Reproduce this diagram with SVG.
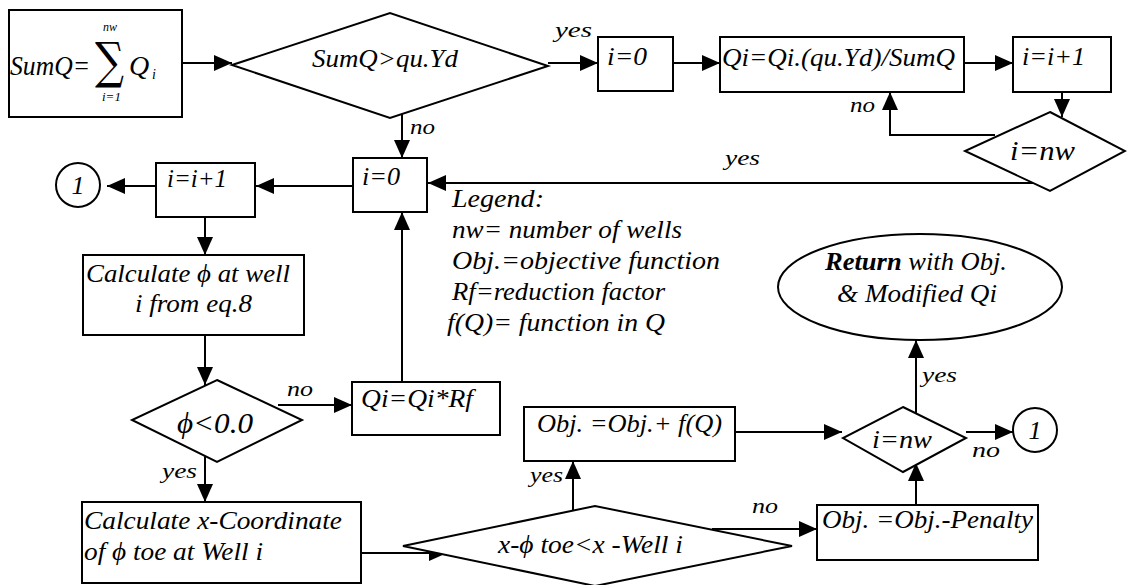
<svg xmlns="http://www.w3.org/2000/svg" width="1127" height="585" viewBox="0 0 1127 585">
<style>
.t{font-family:"Liberation Serif","Times New Roman","DejaVu Serif",serif;font-style:italic;font-size:26px;fill:#000}
.s{font-size:22px}
.b{fill:#fff;stroke:#000;stroke-width:2}
.c{fill:none;stroke:#000;stroke-width:2;marker-end:url(#ah)}
</style>
<defs>
<marker id="ah" markerUnits="userSpaceOnUse" markerWidth="20" markerHeight="18" refX="18" refY="8" orient="auto">
<path d="M0,0 L18,8 L0,16 Z" fill="#000"/>
</marker>
</defs>
<rect width="1127" height="585" fill="#fff"/>

<g id="connectors">
<line class="c" x1="182" y1="63" x2="232" y2="63"/>
<line class="c" x1="548" y1="63" x2="598" y2="63"/>
<line class="c" x1="673" y1="63" x2="720" y2="63"/>
<line class="c" x1="964" y1="63" x2="1013" y2="63"/>
<line class="c" x1="1062" y1="92" x2="1062" y2="117"/>
<polyline class="c" points="995,135 890,135 890,92"/>
<line class="c" x1="1033" y1="183" x2="428" y2="183"/>
<line class="c" x1="402" y1="114" x2="402" y2="158"/>
<line class="c" x1="353" y1="186" x2="256" y2="186"/>
<line class="c" x1="156" y1="186" x2="107" y2="186"/>
<line class="c" x1="205" y1="217" x2="205" y2="255"/>
<line class="c" x1="205" y1="335" x2="205" y2="385"/>
<line class="c" x1="278" y1="405" x2="352" y2="405"/>
<line class="c" x1="402" y1="393" x2="402" y2="212"/>
<line class="c" x1="205" y1="456" x2="205" y2="502"/>
<line class="c" x1="353" y1="553" x2="447" y2="553"/>
<line class="c" x1="573" y1="511" x2="573" y2="461"/>
<line class="c" x1="735" y1="432" x2="842" y2="432"/>
<line class="c" x1="916" y1="505" x2="916" y2="463"/>
<line class="c" x1="916" y1="413" x2="916" y2="340"/>
<line class="c" x1="966" y1="432" x2="1013" y2="432"/>
<line class="c" x1="712" y1="529" x2="817" y2="529"/>
</g>

<g id="labels">
<text class="t s" x="555" y="37" textLength="37" lengthAdjust="spacingAndGlyphs">yes</text>
<text class="t s" x="850" y="112" textLength="25" lengthAdjust="spacingAndGlyphs">no</text>
<text class="t s" x="725" y="165" textLength="35" lengthAdjust="spacingAndGlyphs">yes</text>
<text class="t s" x="410" y="134" textLength="25" lengthAdjust="spacingAndGlyphs">no</text>
<text class="t s" x="287" y="396" textLength="26" lengthAdjust="spacingAndGlyphs">no</text>
<text class="t s" x="162" y="478" textLength="35" lengthAdjust="spacingAndGlyphs">yes</text>
<text class="t s" x="530" y="482" textLength="33" lengthAdjust="spacingAndGlyphs">yes</text>
<text class="t s" x="752" y="513" textLength="26" lengthAdjust="spacingAndGlyphs">no</text>
<text class="t s" x="972" y="457" textLength="28" lengthAdjust="spacingAndGlyphs">no</text>
<text class="t s" x="922" y="382" textLength="35" lengthAdjust="spacingAndGlyphs">yes</text>
</g>

<g id="sumq">
<rect class="b" x="9" y="10" width="173" height="107"/>
<text class="t" x="10" y="75" style="font-size:27px" textLength="80" lengthAdjust="spacingAndGlyphs">SumQ=</text>
<text x="95" y="78" style="font-family:'DejaVu Serif',serif;font-size:50px" textLength="29" lengthAdjust="spacingAndGlyphs">∑</text>
<text class="t" x="103" y="31" style="font-size:12px">nw</text>
<text class="t" x="102" y="101" style="font-size:13px">i=1</text>
<text class="t" x="129" y="75" style="font-size:28px">Q</text>
<text class="t" x="152" y="79" style="font-size:14px">i</text>
</g>

<g id="dec-sumq">
<polygon class="b" points="232,65 390,13 548,66 390,118"/>
<text class="t" x="312" y="67" textLength="146" lengthAdjust="spacingAndGlyphs">SumQ&gt;qu.Yd</text>
</g>

<g id="i0-top">
<rect class="b" x="598" y="37" width="75" height="54"/>
<text class="t" x="607" y="65" textLength="40" lengthAdjust="spacingAndGlyphs">i=0</text>
</g>

<g id="qi-scale">
<rect class="b" x="720" y="37" width="244" height="55"/>
<text class="t" x="722" y="66" textLength="233" lengthAdjust="spacingAndGlyphs">Qi=Qi.(qu.Yd)/SumQ</text>
</g>

<g id="inc-top">
<rect class="b" x="1013" y="37" width="98" height="55"/>
<text class="t" x="1022" y="65" textLength="63" lengthAdjust="spacingAndGlyphs">i=i+1</text>
</g>

<g id="dec-nw-top">
<polygon class="b" points="1050,112 1125,151 1050,191 965,151"/>
<text class="t" x="1010" y="160" style="font-size:28px" textLength="65" lengthAdjust="spacingAndGlyphs">i=nw</text>
</g>

<g id="i0-mid">
<rect class="b" x="353" y="158" width="74" height="54"/>
<text class="t" x="362" y="185" textLength="38" lengthAdjust="spacingAndGlyphs">i=0</text>
</g>

<g id="inc-left">
<rect class="b" x="156" y="163" width="99" height="54"/>
<text class="t" x="167" y="187" textLength="60" lengthAdjust="spacingAndGlyphs">i=i+1</text>
</g>

<g id="conn-left">
<circle class="b" cx="78" cy="185" r="22"/>
<text class="t" x="78" y="194" text-anchor="middle">1</text>
</g>

<g id="calc-phi">
<rect class="b" x="83" y="255" width="221" height="80"/>
<text class="t" x="86" y="282" textLength="204" lengthAdjust="spacingAndGlyphs">Calculate ϕ at well</text>
<text class="t" x="135" y="312" textLength="117" lengthAdjust="spacingAndGlyphs">i from eq.8</text>
</g>

<g id="dec-phi">
<polygon class="b" points="217,380 302,420 217,462 132,420"/>
<text class="t" x="177" y="433" style="font-size:30px" textLength="76" lengthAdjust="spacingAndGlyphs">ϕ&lt;0.0</text>
</g>

<g id="qi-rf">
<rect class="b" x="352" y="382" width="148" height="53"/>
<text class="t" x="361" y="407" textLength="112" lengthAdjust="spacingAndGlyphs">Qi=Qi*Rf</text>
</g>

<g id="calc-x">
<rect class="b" x="82" y="502" width="279" height="81"/>
<text class="t" x="84" y="529" textLength="258" lengthAdjust="spacingAndGlyphs">Calculate x-Coordinate</text>
<text class="t" x="84" y="560" textLength="179" lengthAdjust="spacingAndGlyphs">of ϕ toe at Well i</text>
</g>

<g id="dec-x">
<polygon class="b" points="403,546 595,506 792,546 595,586"/>
<text class="t" x="498" y="553" textLength="185" lengthAdjust="spacingAndGlyphs">x-ϕ toe&lt;x -Well i</text>
</g>

<g id="obj-plus">
<rect class="b" x="524" y="407" width="211" height="54"/>
<text class="t" x="537" y="432" textLength="185" lengthAdjust="spacingAndGlyphs">Obj. =Obj.+ f(Q)</text>
</g>

<g id="obj-pen">
<rect class="b" x="817" y="505" width="221" height="55"/>
<text class="t" x="822" y="528" textLength="211" lengthAdjust="spacingAndGlyphs">Obj. =Obj.-Penalty</text>
</g>

<g id="dec-nw-low">
<polygon class="b" points="903,407 966,438 903,472 843,438"/>
<text class="t" x="872" y="448" textLength="60" lengthAdjust="spacingAndGlyphs">i=nw</text>
</g>

<g id="conn-right">
<circle class="b" cx="1035" cy="430" r="22"/>
<text class="t" x="1035" y="439" text-anchor="middle">1</text>
</g>

<g id="return">
<ellipse class="b" cx="920" cy="287" rx="142" ry="53"/>
<text class="t" x="825" y="270" textLength="182" lengthAdjust="spacingAndGlyphs"><tspan font-weight="bold">Return</tspan> with Obj.</text>
<text class="t" x="837" y="302" textLength="160" lengthAdjust="spacingAndGlyphs">&amp; Modified Qi</text>
</g>

<g id="legend">
<text class="t" x="452" y="207" textLength="92" lengthAdjust="spacingAndGlyphs">Legend:</text>
<text class="t" x="452" y="238" textLength="230" lengthAdjust="spacingAndGlyphs">nw= number of wells</text>
<text class="t" x="452" y="269" textLength="268" lengthAdjust="spacingAndGlyphs">Obj.=objective function</text>
<text class="t" x="452" y="300" textLength="213" lengthAdjust="spacingAndGlyphs">Rf=reduction factor</text>
<text class="t" x="447" y="331" textLength="218" lengthAdjust="spacingAndGlyphs">f(Q)= function in Q</text>
</g>
</svg>
